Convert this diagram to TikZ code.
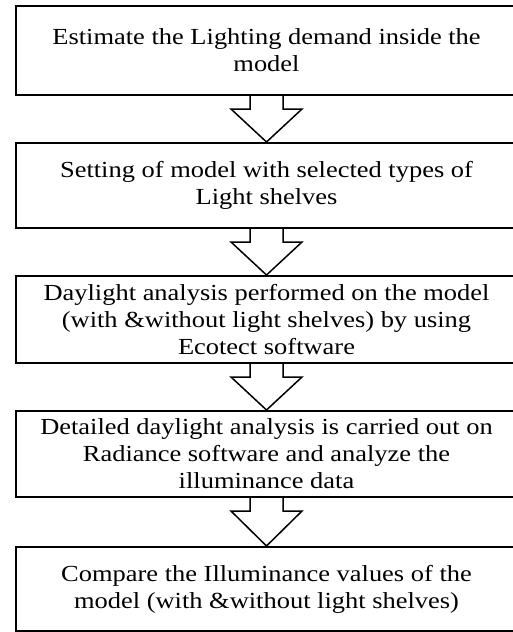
\documentclass[tikz,border=0pt]{standalone}
\usepackage{fontspec}
\setmainfont{Liberation Serif}[FakeStretch=1.15]
\usetikzlibrary{calc}

\tikzset{
  stepbox/.style={draw=black, line width=2pt, fill=white, rectangle,
    minimum width=501pt, inner sep=0pt, align=center,
    font=\fontsize{23}{27}\selectfont},
  blockarrow/.style={draw=black, line width=1.5pt, fill=white, line join=miter},
}

% block arrow from the bottom of one box to the top of the next
\newcommand{\flowarrow}[2]{%
  \draw[blockarrow]
    ($(#1.south)+(-16.5,0)$) -- ($(#1.south)+(-16.5,13)$) --
    ($(#1.south)+(-35.5,13)$) -- (#2.north) --
    ($(#1.south)+(35.5,13)$) -- ($(#1.south)+(16.5,13)$) --
    ($(#1.south)+(16.5,0)$);}

\begin{document}
\begin{tikzpicture}[x=1pt, y=-1pt]
\useasboundingbox (0,0) rectangle (513,632);
\clip (0,0) rectangle (513,632);

\node[stepbox, minimum height=89pt] (s1) at (266.5,50.5)
  {Estimate the Lighting demand inside the\\model};
\node[stepbox, minimum height=85pt] (s2) at (266.5,185.5)
  {Setting of model with selected types of\\Light shelves};
\node[stepbox, minimum height=87pt] (s3) at (266.5,319.5)
  {Daylight analysis performed on the model\\(with \&without light shelves) by using\\Ecotect software};
\node[stepbox, minimum height=86pt] (s4) at (266.5,454)
  {Detailed daylight analysis is carried out on\\Radiance software and analyze the\\illuminance data};
\node[stepbox, minimum height=84pt] (s5) at (266.5,589)
  {Compare the Illuminance values of the\\model (with \&without light shelves)};

\flowarrow{s1}{s2}
\flowarrow{s2}{s3}
\flowarrow{s3}{s4}
\flowarrow{s4}{s5}
\end{tikzpicture}
\end{document}
